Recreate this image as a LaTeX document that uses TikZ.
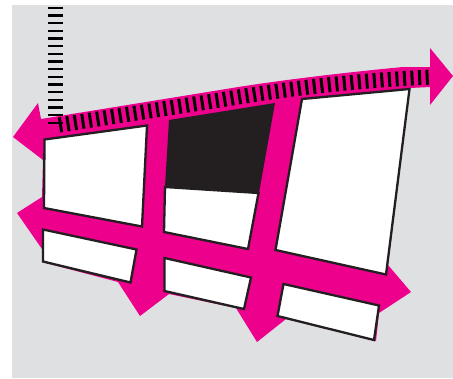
\documentclass[tikz,border=0pt]{standalone}
\definecolor{roadpink}{HTML}{EC008C}
\definecolor{groundgray}{HTML}{DEE0E2}
\definecolor{blockdark}{HTML}{231F20}
\begin{document}
\begin{tikzpicture}[x=1pt,y=-1pt,line cap=butt,line join=miter,
    block/.style={draw=blockdark,fill=white,line width=2.3pt}]
  \useasboundingbox (0,0) rectangle (453,378);
  \fill[groundgray] (12,5) rectangle (453,378);
  % roads with their arrow heads
  \fill[roadpink] (13,137) -- (38,103) -- (41,119) -- (226,89) .. controls (280,80) and (350,72) .. (403,67)
    -- (430,67) -- (430,48) -- (453,76) -- (430,105) -- (430,87) -- (410,88) -- (388,265) -- (411,292)
    -- (379,313) -- (376,341) -- (286,319) -- (257,342) -- (236,308) -- (169,294) -- (140,316) -- (118,282)
    -- (42,262) -- (42,249) -- (17,213) -- (42,197) -- (43,160) -- cycle;
  % blocks
  \draw[block] (44.5,139.5) -- (147,125.5) -- (142,226.5) -- (44,208) -- cycle;
  \draw[block] (165,187) -- (258.5,193) -- (248,249) -- (164,232) -- cycle;
  \fill[blockdark] (169,120) -- (275,103) -- (259,193) -- (165,187) -- cycle;
  \draw[block] (302,99) -- (409.5,89) -- (386,274.5) -- (275.5,250) -- cycle;
  \draw[block] (43,229.5) -- (136.5,249.5) -- (130.5,282.5) -- (43,261.5) -- cycle;
  \draw[block] (164.5,258) -- (251,277.5) -- (244,309) -- (164.5,291) -- cycle;
  \draw[block] (283.5,284) -- (379,305.5) -- (374,340) -- (277.5,316) -- cycle;
  % hatched lines
  \draw[black,line width=15pt,dash pattern=on 2.5pt off 5.17pt] (55.5,6.5) -- (55.5,124);
  \draw[black,line width=15pt,dash pattern=on 3pt off 4.55pt] (59,125) -- (220,100)
    .. controls (290,88) and (360,80) .. (433,77);
\end{tikzpicture}
\end{document}
